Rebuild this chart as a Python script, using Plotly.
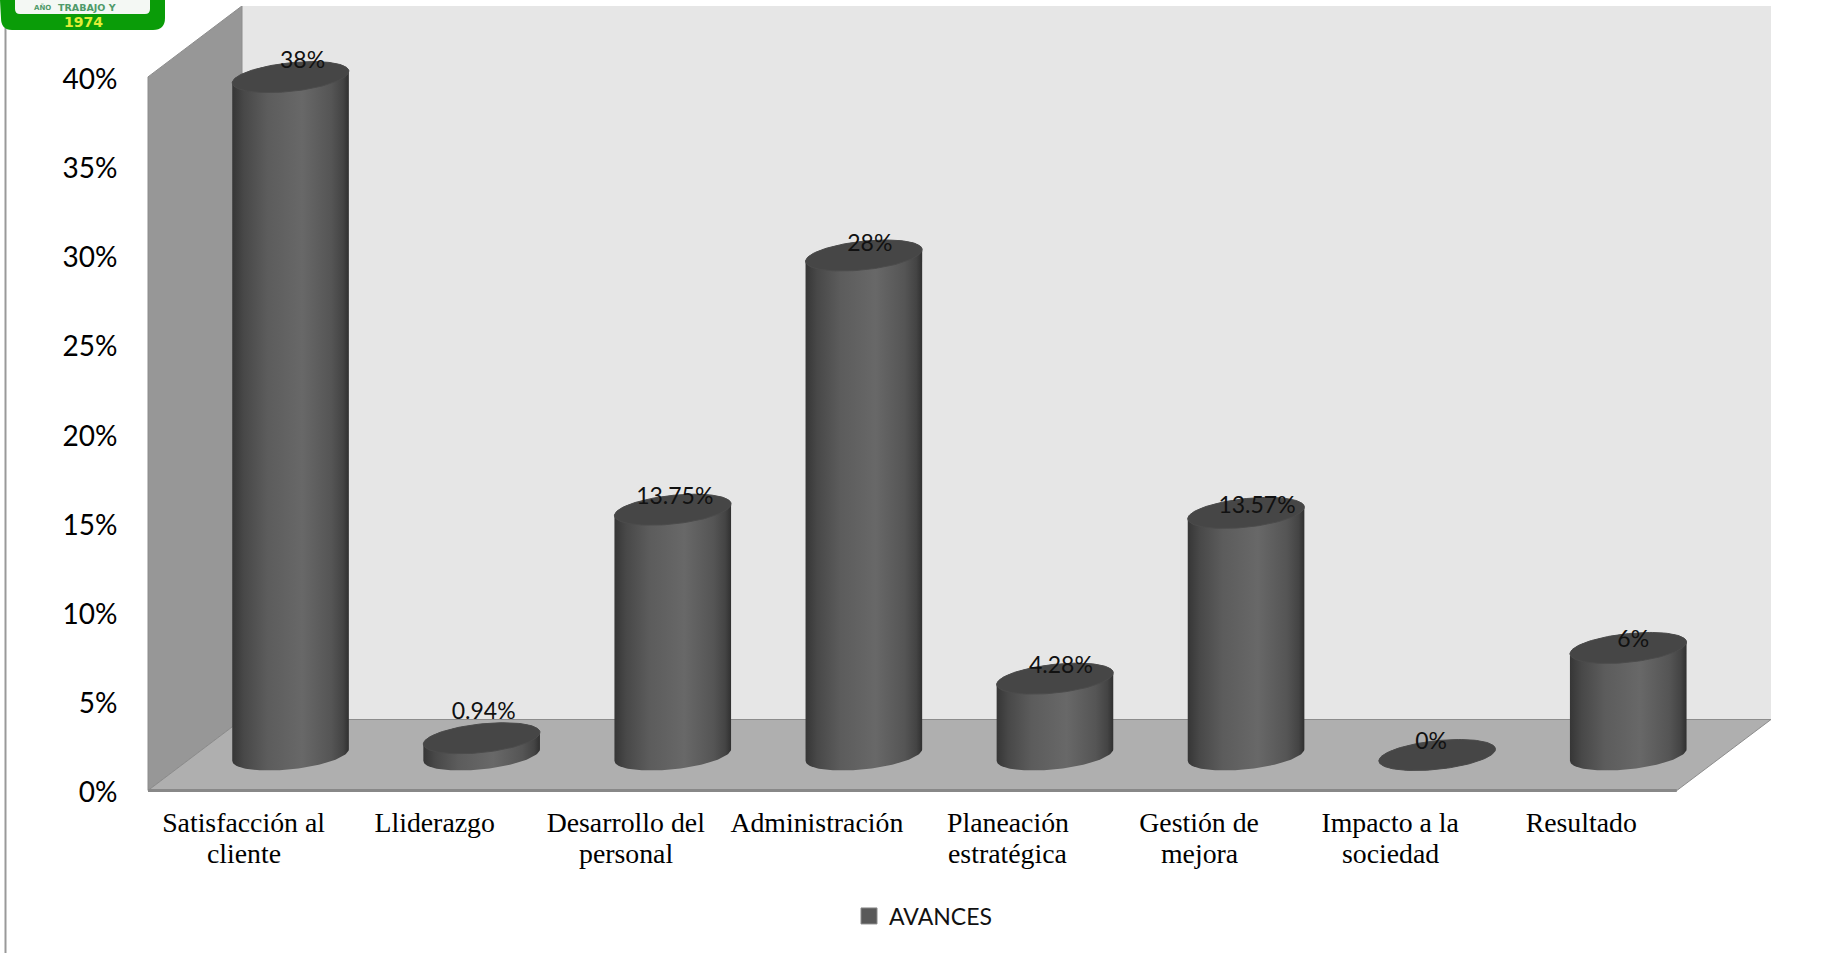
import numpy as np
import plotly.graph_objects as go

categories = ["Satisfacción al<br>cliente", "Lliderazgo", "Desarrollo del<br>personal", "Administración",
              "Planeación<br>estratégica", "Gestión de<br>mejora", "Impacto a la<br>sociedad", "Resultado"]
values = [38, 0.94, 13.75, 28, 4.28, 13.57, 0, 6]
value_labels = ["38%", "0.94%", "13.75%", "28%", "4.28%", "13.57%", "0%", "6%"]
y_ticks = [0, 5, 10, 15, 20, 25, 30, 35, 40]
series_name = "AVANCES"

W, H = 1841, 953
# Layout in pixels
L, R, T, B = 146, 1771, 6, 797
X0_PX, Y0_PX = 148, 790.5    # front-left floor corner
UX, UY = 191.1, 17.84        # px per category, px per percent
DX, DY = 47.0 / UX, 35.5 / UY  # cylinder centre depth offset (data units)
WALL_DX, WALL_DY = 94 / UX, 71 / UY
A, B_E, C = 54 / UX, 22 / UX, 15.5 / UY  # elliptical section of the cylinder
x_lo = -0.5 - (X0_PX - L) / UX
x_hi = -0.5 + (R - X0_PX) / UX
y_lo = -(B - Y0_PX) / UY
y_hi = (Y0_PX - T) / UY
x_front_r = 7.5
label_dx = [12, 2, 2, 6, 6, 11, -6, 5]
label_dy = [-15, -25, -11, -10, -11, -6, -11.5, -7]
second_line_y = 853.5

SHADE = [[0, "#363636"], [0.1, "#484848"], [0.3, "#5c5c5c"], [0.6, "#686868"],
         [0.85, "#555555"], [0.95, "#444444"], [1, "#303030"]]


def px(x):
    return x / (R - L) - L / (R - L)


def py(y):
    return (B - y) / (B - T)


def ellipse(cx, cy, t):
    return cx + A * np.cos(t) + B_E * np.sin(t), cy + C * np.sin(t)


fig = go.Figure()
t0 = np.arctan2(B_E, A)
for i, v in enumerate(values):
    cx = i + DX
    cy_base, cy_top = DY, v + DY
    low = np.linspace(t0 + np.pi, t0 + 2 * np.pi, 60)
    up = np.linspace(t0, t0 + np.pi, 60)
    xb, yb = ellipse(cx, cy_base, low)
    xt, yt = ellipse(cx, cy_top, up)
    fig.add_trace(go.Scatter(x=np.r_[xb, xt], y=np.r_[yb, yt], mode="lines", fill="toself",
                             line=dict(width=0, color="#444444"), showlegend=False, hoverinfo="skip",
                             fillgradient=dict(type="horizontal", colorscale=SHADE)))
    xe, ye = ellipse(cx, cy_top, np.linspace(0, 2 * np.pi, 120))
    fig.add_trace(go.Scatter(x=xe, y=ye, mode="lines", fill="toself", fillcolor="#464646",
                             line=dict(width=1, color="#4c4c4c"), showlegend=False, hoverinfo="skip"))

fig.add_trace(go.Scatter(
    x=[i + DX + d / UX for i, d in enumerate(label_dx)],
    y=[v + DY - d / UY for v, d in zip(values, label_dy)],
    text=value_labels, mode="text", textposition="middle center",
    textfont=dict(family="Lato", size=23, color="#111111"), showlegend=False, hoverinfo="skip"))

fig.add_trace(go.Scatter(x=[None], y=[None], mode="markers", name=series_name,
                         marker=dict(symbol="square", size=16, color="#595959",
                                     line=dict(width=1, color="#8a8a8a"))))

edge = dict(color="#8c8c8c", width=1)
shapes = [
    # back wall
    dict(type="rect", x0=-0.5 + WALL_DX, x1=x_hi, y0=WALL_DY, y1=40 + WALL_DY,
         fillcolor="#e6e6e6", line=dict(width=0), layer="below"),
    # left wall
    dict(type="path", layer="below", fillcolor="#979797", line=edge,
         path=f"M -0.5 0 L -0.5 40 L {-0.5 + WALL_DX} {40 + WALL_DY} L {-0.5 + WALL_DX} {WALL_DY} Z"),
    # floor
    dict(type="path", layer="below", fillcolor="#afafaf", line=edge,
         path=f"M -0.5 0 L {-0.5 + WALL_DX} {WALL_DY} L {x_hi} {WALL_DY} L {x_front_r} 0 Z"),
    # front floor edge
    dict(type="line", layer="below", x0=-0.5, x1=x_front_r, y0=0, y1=0, line=dict(color="#888888", width=3)),
    # page rule on the left
    dict(type="line", xref="paper", yref="paper", x0=px(5.5), x1=px(5.5), y0=py(28), y1=py(953),
         line=dict(color="#999999", width=2)),
    # logo
    dict(type="path", xref="paper", yref="paper", fillcolor="#0a9c08", line=dict(width=0),
         path=f"M {px(0)} {py(0)} L {px(165)} {py(0)} L {px(165)} {py(18)} Q {px(165)} {py(30)} {px(153)} {py(30)} "
              f"L {px(12)} {py(30)} Q {px(1)} {py(30)} {px(1)} {py(18)} Z"),
    dict(type="path", xref="paper", yref="paper", fillcolor="#f4f8f4", line=dict(width=0),
         path=f"M {px(15)} {py(0)} L {px(150)} {py(0)} L {px(150)} {py(9)} Q {px(150)} {py(14)} {px(145)} {py(14)} "
              f"L {px(20)} {py(14)} Q {px(15)} {py(14)} {px(15)} {py(9)} Z"),
]

annotations = [
    dict(xref="paper", yref="paper", x=px(87), y=py(7), text="<b>TRABAJO Y</b>", showarrow=False,
         font=dict(family="DejaVu Sans", size=9.5, color="#4f9a6a"), xanchor="center", yanchor="middle"),
    dict(xref="paper", yref="paper", x=px(42), y=py(7), text="<b>AÑO</b>", showarrow=False,
         font=dict(family="DejaVu Sans", size=7, color="#4f9a6a"), xanchor="center", yanchor="middle"),
    dict(xref="paper", yref="paper", x=px(83), y=py(22), text="<b>1974</b>", showarrow=False,
         font=dict(family="DejaVu Sans", size=14, color="#e2ee36"), xanchor="center", yanchor="middle"),
]

first_lines, second_lines = [], []
for c in categories:
    parts = c.split("<br>")
    first_lines.append(parts[0])
    second_lines.append(parts[1] if len(parts) > 1 else "")

for i, s in enumerate(second_lines):
    if s:
        annotations.append(dict(xref="x", yref="paper", x=i, y=py(second_line_y), text=s, showarrow=False,
                                xanchor="center", yanchor="middle",
                                font=dict(family="Liberation Serif", size=27.8, color="#000000")))

fig.update_layout(
    width=W, height=H, margin=dict(l=L, r=W - R, t=T, b=H - B, pad=0),
    paper_bgcolor="white", plot_bgcolor="white", shapes=shapes, annotations=annotations,
    xaxis=dict(range=[x_lo, x_hi], tickmode="array", tickvals=list(range(8)), ticktext=first_lines,
               showgrid=False, zeroline=False, showline=False, ticks="outside", ticklen=1,
               tickcolor="rgba(0,0,0,0)", tickangle=0,
               tickfont=dict(family="Liberation Serif", size=27.8, color="#000000")),
    yaxis=dict(range=[y_lo, y_hi], tickmode="array", tickvals=y_ticks, ticktext=[f"{v}%" for v in y_ticks],
               showgrid=False, zeroline=False, showline=False, ticks="outside", ticklen=22,
               tickcolor="rgba(0,0,0,0)", ticklabelshift=2,
               tickfont=dict(family="Lato", size=28, color="#000000")),
    showlegend=True,
    legend=dict(orientation="h", xref="container", yref="container", x=923 / W, y=1 - 916 / H,
                xanchor="center", yanchor="middle", bgcolor="rgba(0,0,0,0)",
                font=dict(family="Lato", size=23, color="#111111"), itemsizing="trace"),
)

fig.write_html("out.html", config={"displayModeBar": False},
               post_script="document.body.style.margin='0';document.body.style.overflow='hidden';")
